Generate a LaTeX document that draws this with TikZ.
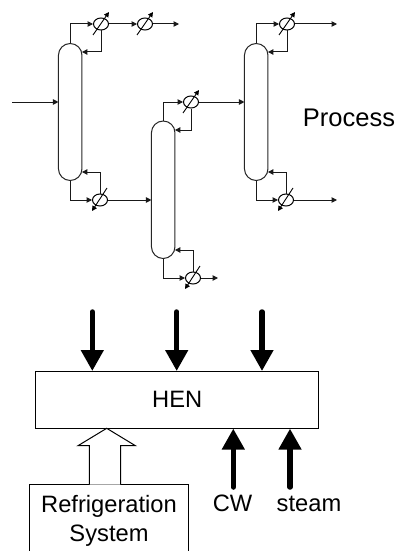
\documentclass[tikz,border=0pt]{standalone}
\usepackage{fontspec}
\setmainfont{Liberation Sans}
\usetikzlibrary{arrows.meta,shapes.geometric,calc}
\tikzset{
  pipe/.style={line width=1pt,draw=black!90,-{Triangle[length=5.5pt,width=5.5pt]}},
  hx/.style={ellipse,draw=black,line width=1pt,minimum width=15pt,minimum height=12pt,inner sep=0pt,fill=white},
  dial/.style={line width=0.9pt,draw=black,-{Triangle[length=5pt,width=5pt]}},
  column/.style={line width=1pt,draw=black!85},
  heavy/.style={line width=5.5pt,draw=black,line cap=round,-{Triangle[length=21pt,width=21.7pt]}},
  boxed/.style={draw=black,line width=1pt,rectangle,inner sep=0pt,fill=white},
  lbl/.style={inner sep=0pt,font=\fontsize{23.7}{23.7}\selectfont}
}
\newcommand{\colshape}[4]{% name, centre x, top y, bottom y
  \draw[column] (#2-11.75,#3+11.75) arc[start angle=180,end angle=360,x radius=11.75,y radius=11.75]
    -- (#2+11.75,#4-11.75) arc[start angle=0,end angle=180,x radius=11.75,y radius=11.75] -- cycle;
  \coordinate (#1top) at (#2,#3);
  \coordinate (#1bot) at (#2,#4);
  \coordinate (#1w) at (#2-11.75,0);
  \coordinate (#1e) at (#2+11.75,0);
}
\newcommand{\hxup}[3]{% name,x,y
  \node[hx] (#1) at (#2,#3) {};
  \coordinate (#1a) at (#2-8,#3+11);
  \coordinate (#1b) at (#2+8,#3-12);
  \draw[dial] (#1a) -- (#1b);
}
\newcommand{\hxdown}[3]{%
  \node[hx] (#1) at (#2,#3) {};
  \coordinate (#1a) at (#2+7,#3-12);
  \coordinate (#1b) at (#2-8,#3+11);
  \draw[dial] (#1a) -- (#1b);
}
\begin{document}
\begin{tikzpicture}[x=1pt,y=-1pt]
\useasboundingbox (0,0) rectangle (398,551);
% columns
\colshape{ca}{70.2}{43.5}{180.5}
\colshape{cb}{163.2}{121}{258.5}
\colshape{cc}{256.2}{43.5}{180.5}
% exchangers
\hxup{h1}{101}{24}
\hxup{h2}{145}{24}
\hxup{h3}{191}{102}
\hxdown{h4}{100}{200}
\hxdown{h5}{193}{278}
\hxup{h6}{287}{24}
\hxdown{h7}{286}{200}
% free ends
\coordinate (feed) at (12,102);
\coordinate (out1) at (179,24);
\coordinate (out2) at (218,278);
\coordinate (out3) at (337,24);
\coordinate (out4) at (337,200);
% column 1
\draw[pipe] (feed) -- (feed -| caw);
\draw[pipe] (catop) |- (h1.west);
\draw[pipe] (h1.south) |- (cae |- 0,52);
\draw[pipe] (h1.east) -- (h2.west);
\draw[pipe] (h2.east) -- (out1);
\draw[pipe] (cabot) |- (h4.west);
\draw[pipe] (h4.north) |- (cae |- 0,172);
\draw[pipe] (h4.east) -- (h4.east -| cbw);
% column 2
\draw[pipe] (cbtop) |- (h3.west);
\draw[pipe] (h3.south) |- (cbe |- 0,130);
\draw[pipe] (h3.east) -- (h3.east -| ccw);
\draw[pipe] (cbbot) |- (h5.west);
\draw[pipe] (h5.north) |- (cbe |- 0,250);
\draw[pipe] (h5.east) -- (out2);
% column 3
\draw[pipe] (cctop) |- (h6.west);
\draw[pipe] (h6.south) |- (cce |- 0,52);
\draw[pipe] (h6.east) -- (out3);
\draw[pipe] (ccbot) |- (h7.west);
\draw[pipe] (h7.north) |- (cce |- 0,172);
\draw[pipe] (h7.east) -- (out4);
% labels
\node[inner sep=0pt,font=\fontsize{25.5}{25.5}\selectfont] (proc) at (349,117.5) {Process};
% HEN
\node[boxed,minimum width=283pt,minimum height=56.5pt,lbl] (hen) at (177.2,399.8) {HEN};
\node[boxed,minimum width=158.5pt,minimum height=71pt] (ref) at (109.2,520) {};
\node[lbl] (reft1) at (109,506.5) {Refrigeration};
\node[lbl] (reft2) at (109,535.5) {System};
\node[lbl] (cw) at (232.5,503) {CW};
\node[lbl] (steam) at (309,504) {steam};
% heavy arrows
\coordinate (s1) at (92.3,312);
\coordinate (s2) at (176.7,312);
\coordinate (s3) at (262,312);
\coordinate (s4) at (233.3,487);
\coordinate (s5) at (290,487);
\draw[heavy] (s1) -- (s1 |- hen.north);
\draw[heavy] (s2) -- (s2 |- hen.north);
\draw[heavy] (s3) -- (s3 |- hen.north);
\draw[heavy] (s4) -- (s4 |- hen.south);
\draw[heavy] (s5) -- (s5 |- hen.south);
% hollow arrow
\draw[line width=1pt,draw=black,fill=white] (89.3,484.5) -- (89.3,445.7) -- (78,445.7) -- (106.7,428.3) -- (135.4,445.7) -- (120.7,445.7) -- (120.7,484.5);
\end{tikzpicture}
\end{document}
